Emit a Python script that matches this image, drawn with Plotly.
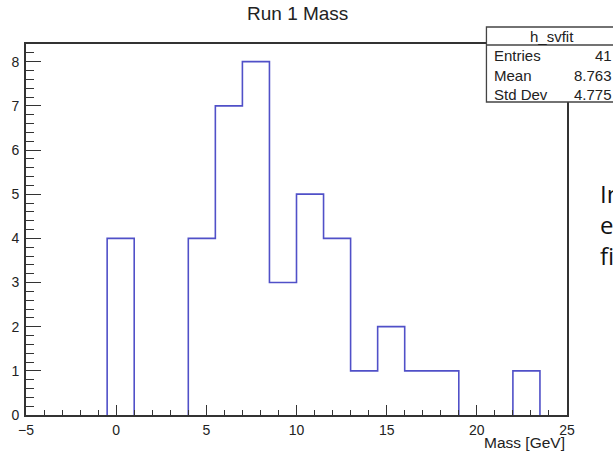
import plotly.graph_objects as go

# Histogram h_svfit: 20 bins of 1.5 GeV from -5 to 25
bin_low = -5.0
bin_width = 1.5
counts = [0, 0, 0, 4, 0, 0, 4, 7, 8, 3, 5, 4, 1, 2, 1, 1, 0, 0, 1, 0]

# Statistics box
stat_title = "h_svfit"
stat_names = ["Entries", "Mean", "Std Dev"]
stat_values = [str(sum(counts)), "8.763", "4.775"]

plot_title = "Run 1 Mass"
x_title = "Mass [GeV]"
side_lines = ["In", "e", "fi"]

edges = [bin_low + i * bin_width for i in range(len(counts) + 1)]

# Step outline of the histogram; empty bins leave a gap so the
# baseline stays under the axis line.
xs, ys = [], []
prev = 0
for i, c in enumerate(counts):
    x0, x1 = edges[i], edges[i + 1]
    if c == 0:
        if prev != 0:
            xs += [x0, x0]
            ys += [prev, 0]
        xs.append(None)
        ys.append(None)
    else:
        xs += [x0, x0, x1]
        ys += [prev, c, c]
    prev = c
if prev != 0:
    xs += [edges[-1], edges[-1]]
    ys += [prev, 0]

W, H = 613, 453
L, R, T, B = 23, 46, 44, 38
PW, PH = W - L - R, H - T - B


def px(x):
    return (x - L) / PW


def py(y):
    return (H - B - y) / PH


TXT = "#222222"
FONT = "Liberation Sans, Arial, Helvetica, sans-serif"

fig = go.Figure()
fig.add_trace(go.Scatter(
    x=xs, y=ys, mode="lines", connectgaps=False,
    line=dict(color="#5050c8", width=1.6), hoverinfo="skip", showlegend=False,
))

axis_common = dict(
    showline=True, linecolor="#333333", linewidth=1.6, mirror=True,
    showgrid=False, zeroline=False, ticks="inside", tickcolor="#333333",
    tickwidth=1.2, tickfont=dict(size=14, color=TXT, family=FONT),
    layer="above traces",
)

fig.update_xaxes(range=[-5, 25], tick0=0, dtick=5, ticklen=10,
                 minor=dict(dtick=1, ticklen=5, ticks="inside", tickcolor="#333333", tickwidth=1.2),
                 ticklabelstandoff=1, **axis_common)
fig.update_yaxes(range=[0, 8.4], tick0=0, dtick=1, ticklen=15,
                 minor=dict(dtick=0.2, ticklen=8, ticks="inside", tickcolor="#333333", tickwidth=1.2),
                 ticklabelstandoff=2, **axis_common)

shapes = [
    dict(type="rect", xref="paper", yref="paper", x0=px(486), x1=px(618), y0=py(102), y1=py(27),
         line=dict(color="#444444", width=1.3), fillcolor="white", layer="above"),
    dict(type="line", xref="paper", yref="paper", x0=px(486), x1=px(618), y0=py(45), y1=py(45),
         line=dict(color="#444444", width=1.3), layer="above"),
]

annotations = [
    dict(text=plot_title, x=px(296), y=py(13.5), xref="paper", yref="paper",
         xanchor="center", yanchor="middle", showarrow=False,
         font=dict(size=19, color=TXT, family=FONT)),
    dict(text=x_title, x=px(567.5), y=py(442.5), xref="paper", yref="paper",
         xanchor="right", yanchor="middle", showarrow=False,
         font=dict(size=15.5, color=TXT, family=FONT)),
    dict(text=stat_title, x=px(551.5), y=py(36.5), xref="paper", yref="paper",
         xanchor="center", yanchor="middle", showarrow=False,
         font=dict(size=15, color=TXT, family=FONT)),
]
row_y = [55.5, 75, 94]
for name, val, yy in zip(stat_names, stat_values, row_y):
    annotations.append(dict(text=name, x=px(492), y=py(yy), xref="paper", yref="paper",
                            xanchor="left", yanchor="middle", showarrow=False,
                            font=dict(size=15, color=TXT, family=FONT)))
    annotations.append(dict(text=val, x=px(614), y=py(yy), xref="paper", yref="paper",
                            xanchor="right", yanchor="middle", showarrow=False,
                            font=dict(size=15, color=TXT, family=FONT)))

# Slide text running off the right edge, as one multi-line block
annotations.append(dict(text="<br>".join(side_lines), x=px(598), y=py(225),
                        xref="paper", yref="paper", xanchor="left", yanchor="middle",
                        align="left", showarrow=False,
                        font=dict(size=24, color="#111111", family="Open Sans, sans-serif")))

fig.update_layout(
    width=W, height=H, margin=dict(l=L, r=R, t=T, b=B),
    paper_bgcolor="white", plot_bgcolor="white",
    shapes=shapes, annotations=annotations, showlegend=False,
)

fig.write_html("out.html")
